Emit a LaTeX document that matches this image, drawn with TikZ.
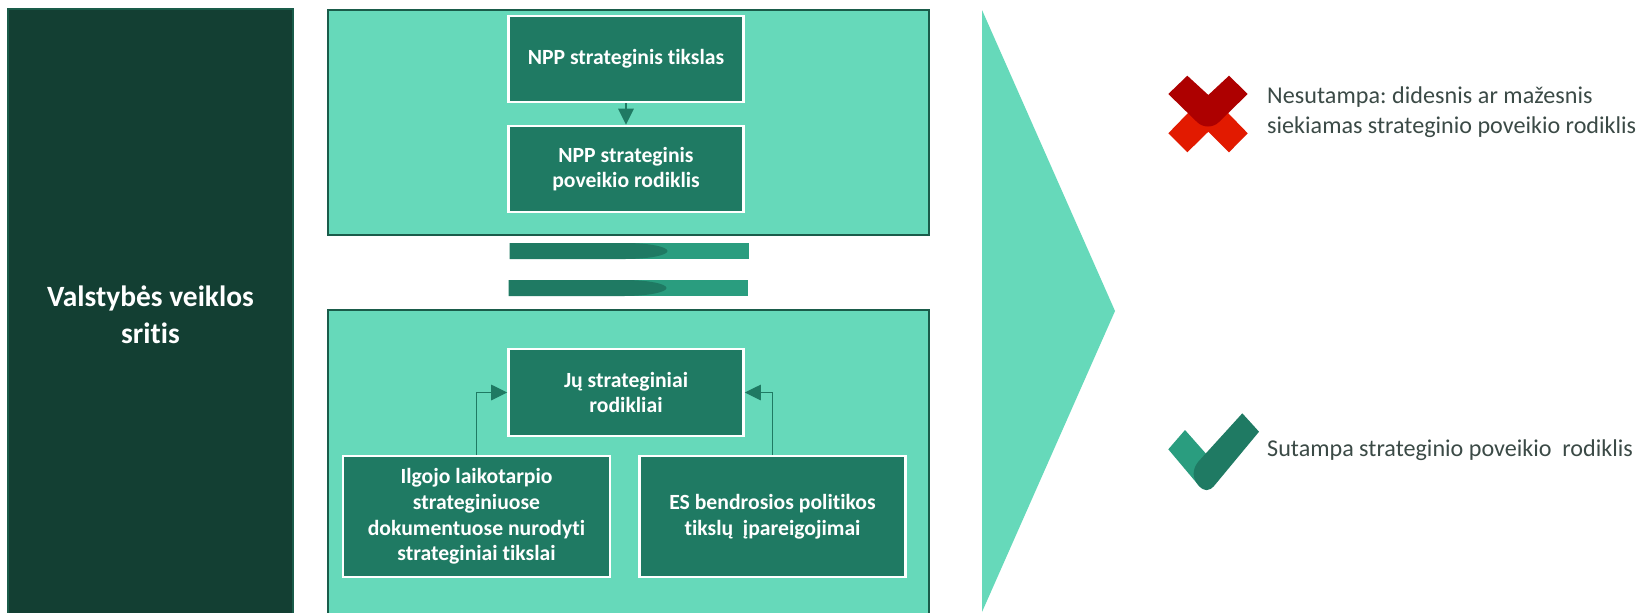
\documentclass[tikz,border=0pt]{standalone}
\usepackage{fontspec}
\setmainfont[Ligatures=CommonOff]{Carlito}
\usetikzlibrary{arrows.meta}
\definecolor{panelgreen}{HTML}{66D9BA}
\definecolor{boxgreen}{HTML}{1F7A63}
\definecolor{bargreen}{HTML}{2A9D7F}
\definecolor{deepgreen}{HTML}{133F33}
\definecolor{edgegreen}{HTML}{1A5C4A}
\definecolor{notegray}{HTML}{3B4A46}
\definecolor{crossdark}{HTML}{AD0000}
\definecolor{crosslight}{HTML}{E21A00}
\begin{document}
\begin{tikzpicture}[
    x=0.01cm, y=-0.01cm,
    panelbox/.style={rectangle, draw=edgegreen, fill=panelgreen, line width=0.025cm, inner sep=0pt},
    textbox/.style={rectangle, draw=white, fill=boxgreen, line width=0.025cm, inner sep=0pt, align=center, text=white,
        font=\fontsize{6.16}{7.3}\selectfont\bfseries},
    notetext/.style={anchor=west, inner sep=0pt, align=left, text=notegray, font=\fontsize{6.86}{8.5}\selectfont\frenchspacing},
    linkarrow/.style={draw=boxgreen, line width=0.012cm, -{Triangle[length=0.16cm,width=0.155cm,fill=boxgreen]}}
    ]
    \useasboundingbox (0,0) rectangle (1637,612);
    \fill[white] (0,0) rectangle (1637,612);

    \node [rectangle, draw=edgegreen, fill=deepgreen, line width=0.015cm, inner sep=0pt, minimum width=2.85cm, minimum height=6.11cm,
        align=center, text=white, font=\fontsize{8.37}{10.4}\selectfont\bfseries] (area) at (150.5,314.5) {Valstybės veiklos\\sritis};

    \node [panelbox, minimum width=6.01cm, minimum height=2.25cm] (toppanel) at (628.5,122.5) {};
    \node [panelbox, minimum width=6.01cm, minimum height=3.04cm] (lowpanel) at (628.5,462) {};

    \node [textbox, minimum width=2.35cm, minimum height=0.86cm] (goal) at (626,59) {NPP strateginis tikslas};
    \node [textbox, minimum width=2.35cm, minimum height=0.86cm] (impact) at (626,169) {NPP strateginis\\poveikio rodiklis};

    \node [textbox, minimum width=2.35cm, minimum height=0.87cm] (their) at (626,392.5) {Jų strateginiai\\rodikliai};
    \node [textbox, minimum width=2.67cm, minimum height=1.21cm] (longterm) at (476.5,516.5) {Ilgojo laikotarpio\\strateginiuose\\dokumentuose nurodyti\\strateginiai tikslai};
    \node [textbox, minimum width=2.66cm, minimum height=1.21cm] (eupolicy) at (772.5,516.5) {ES bendrosios politikos\\tikslų\ \ įpareigojimai};

    \draw [linkarrow] (goal) -- (impact);
    \draw [linkarrow] (longterm.north) |- (their.west);
    \draw [linkarrow] (eupolicy.north) |- (their.east);

    % bars between the panels
    \fill [bargreen] (509.5,243) rectangle (749,259);
    \fill [boxgreen] (509.5,243) -- (625,243) .. controls (650,243) and (667.5,247) .. (667.5,251) .. controls (667.5,255) and (650,259) .. (625,259) -- (509.5,259) -- cycle;
    \fill [bargreen] (508.5,280) rectangle (748,296);
    \fill [boxgreen] (508.5,280) -- (624,280) .. controls (649,280) and (666.5,284) .. (666.5,288) .. controls (666.5,292) and (649,296) .. (624,296) -- (508.5,296) -- cycle;

    \fill [panelgreen] (982,10) -- (1115,311) -- (982,612) -- cycle;

    % cross
    \fill [crosslight] (1188,113) -- (1168.3,133.3) -- (1187.3,152.3) -- (1208.3,131.7) -- (1229,152.3) -- (1247.7,133.3) -- (1228,113) -- cycle;
    \fill [crossdark] (1168.3,94) -- (1187.3,75.7) -- (1208.3,95) -- (1229,75.7) -- (1247.7,94) -- (1219,122) .. controls (1213,128) and (1203,128) .. (1197,122) -- cycle;
    \node [notetext] (nomatch) at (1266.5,112) {{\addfontfeature{LetterSpace=0.2}Nesutampa: didesnis ar mažesnis}\\siekiamas strateginio poveikio rodiklis};

    % check mark
    \fill [bargreen] (1168.3,449.3) -- (1185,430) -- (1208,456) -- (1200,487) -- cycle;
    \fill [boxgreen] (1242.3,413.3) -- (1259,431.7) -- (1214,486) .. controls (1209,491.5) and (1204,491.5) .. (1199,486) .. controls (1192,478) and (1192,470) .. (1198,462) -- cycle;
    \node [notetext] (match) at (1266.5,450) {Sutampa strateginio poveikio\ \ rodiklis};
\end{tikzpicture}
\end{document}
